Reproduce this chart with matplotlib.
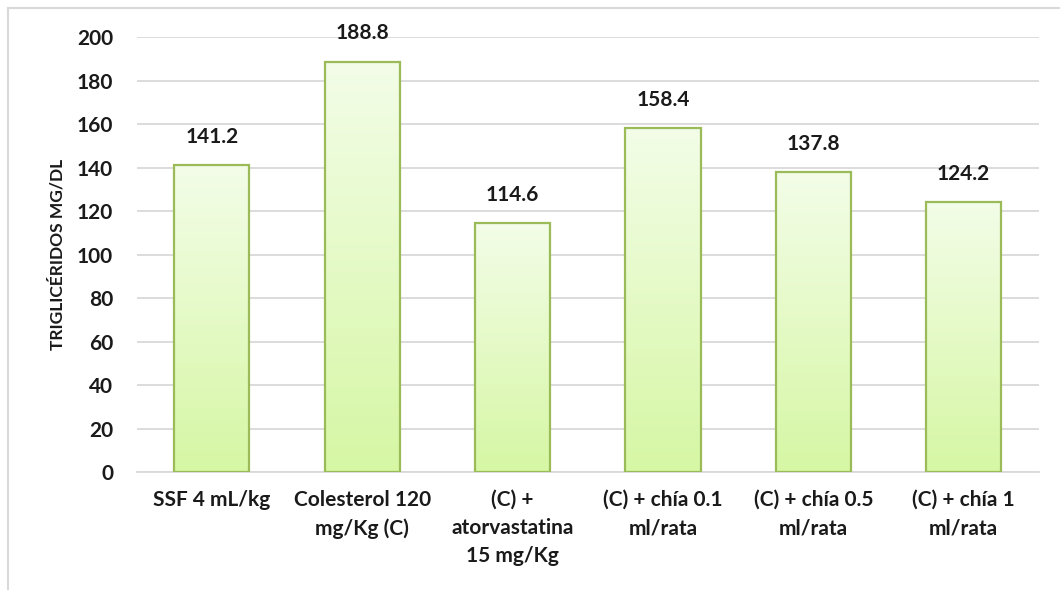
import numpy as np
import matplotlib.pyplot as plt
from matplotlib.colors import LinearSegmentedColormap
from matplotlib.lines import Line2D

# Triglycerides per treatment group
groups = ['SSF 4 mL/kg', 'Colesterol 120\nmg/Kg (C)', '(C) +\natorvastatina\n15 mg/Kg',
          '(C) + chía 0.1\nml/rata', '(C) + chía 0.5\nml/rata', '(C) + chía 1\nml/rata']
values = [141.2, 188.8, 114.6, 158.4, 137.8, 124.2]
yticks = [0, 20, 40, 60, 80, 100, 120, 140, 160, 180, 200]

plt.rcParams['font.family'] = ['Lato', 'DejaVu Sans']
plt.rcParams['font.weight'] = 'bold'

fig = plt.figure(figsize=(10.6, 5.9), dpi=100)
ax = fig.add_axes([0.129, 0.2, 0.851, 0.737])

x = np.arange(len(groups))
bars = ax.bar(x, values, width=0.5, facecolor='none', edgecolor='#9BBB59', linewidth=1.6, zorder=3)

# vertical gradient fill clipped to each bar
cmap = LinearSegmentedColormap.from_list('grad', ['#D6F7A4', '#F3FDE8'])
grad = np.linspace(0, 1, 256).reshape(-1, 1)
for b in bars:
    x0, w, h = b.get_x(), b.get_width(), b.get_height()
    im = ax.imshow(grad, cmap=cmap, origin='lower', aspect='auto',
                   extent=[x0, x0 + w, 0, h], zorder=2)
    im.set_clip_path(b)

for xi, v in zip(x, values):
    ax.annotate(f'{v:.1f}', (xi, v), xytext=(0, 13), textcoords='offset points',
                ha='center', va='bottom', fontsize=15, fontweight='bold', color='#1A1A1A')

ax.set_xlim(-0.5, len(groups) - 0.5)
ax.set_ylim(0, 200)
ax.set_yticks(yticks)
ax.set_xticks(x)
ax.set_xticklabels(groups, fontsize=15, fontweight='bold', color='#1A1A1A', linespacing=1.5)
ax.tick_params(axis='both', length=0, labelsize=15, colors='#1A1A1A')
ax.tick_params(axis='x', pad=13)
ax.tick_params(axis='y', pad=17)
ax.grid(axis='y', color='#D9D9D9', linewidth=1.3, zorder=0)
ax.set_axisbelow(True)
for s in ['top', 'right', 'left']:
    ax.spines[s].set_visible(False)
ax.spines['bottom'].set_color('#D9D9D9')
ax.spines['bottom'].set_linewidth(1.3)

ax.set_ylabel('TRIGLICÉRIDOS MG/DL', fontsize=12.5, fontweight='bold', color='#1A1A1A', labelpad=8)

# outer chart border (left and top edges)
fig.add_artist(Line2D([0.0075, 0.0075], [0.0, 0.986], color='#D9D9D9', linewidth=1.5))
fig.add_artist(Line2D([0.0075, 1.0], [0.986, 0.986], color='#D9D9D9', linewidth=1.5))

fig.savefig('out.png', dpi=100)
